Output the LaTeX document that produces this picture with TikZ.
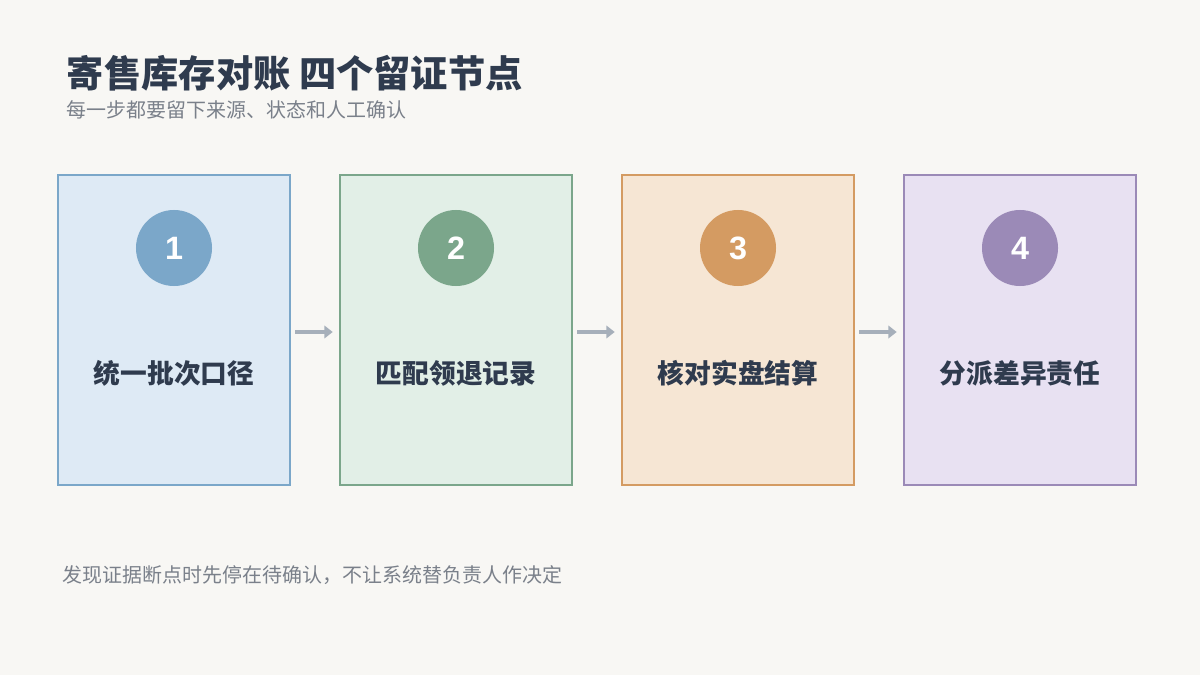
\documentclass[tikz,border=0pt]{standalone}
\usepackage{fontspec}
\setmainfont{Noto Sans CJK SC}
\newfontfamily\numfont{Liberation Sans}
\usetikzlibrary{positioning, arrows.meta}
\definecolor{bgc}{HTML}{F8F7F4}
\definecolor{ink}{HTML}{2F3B4E}
\definecolor{mute}{HTML}{7A808A}
\definecolor{arr}{HTML}{A6AFBA}
\definecolor{fa}{HTML}{DEEAF5}\definecolor{sa}{HTML}{7BA7C9}
\definecolor{fb}{HTML}{E2EFE7}\definecolor{sb}{HTML}{7BA68B}
\definecolor{fc}{HTML}{F6E6D4}\definecolor{sc}{HTML}{D49B62}
\definecolor{fd}{HTML}{E8E1F2}\definecolor{sd}{HTML}{9B8AB7}
\tikzset{
  step/.style={draw=#1, line width=1.8pt, minimum width=5.8cm, minimum height=7.75cm, inner sep=0pt},
  num/.style={circle, fill=#1, minimum size=1.9cm, text=white, font=\numfont\fontsize{23}{23}\selectfont\bfseries},
  lbl/.style={text=ink, font=\fontsize{19}{19}\selectfont\bfseries},
  link/.style={draw=arr, line width=3pt, -{Triangle[length=6pt,width=9pt]}}
}
\begin{document}
\begin{tikzpicture}[x=0.025cm, y=-0.025cm]
    \fill[bgc] (0,0) rectangle (1200,675);
    \useasboundingbox (0,0) rectangle (1200,675);
    \node[anchor=west, text=ink, font=\fontsize{26.5}{27}\selectfont\bfseries] (title) at (62,73) {寄售库存对账 四个留证节点};
    \node[anchor=west, text=mute, font=\fontsize{14.2}{15}\selectfont] (sub) at (62,110) {每一步都要留下来源、状态和人工确认};
    \node[anchor=west, text=mute, font=\fontsize{14.2}{15}\selectfont] (foot) at (58,575) {发现证据断点时先停在待确认，不让系统替负责人作决定};
    \foreach \i/\x/\f/\s/\t in {1/174/fa/sa/统一批次口径, 2/456/fb/sb/匹配领退记录, 3/738/fc/sc/核对实盘结算, 4/1020/fd/sd/分派差异责任} {
        \node[step=\s, fill=\f] (box\i) at (\x,330) {};
        \node[num=\s] (n\i) at (\x,248) {\i};
        \node[lbl] (t\i) at (\x,373) {\t};
    }
    \foreach \a/\b in {1/2, 2/3, 3/4}
        \draw[link] ([xshift=0.1cm, yshift=-0.05cm]box\a.east) -- ([xshift=-0.15cm, yshift=-0.05cm]box\b.west);
\end{tikzpicture}
\end{document}
